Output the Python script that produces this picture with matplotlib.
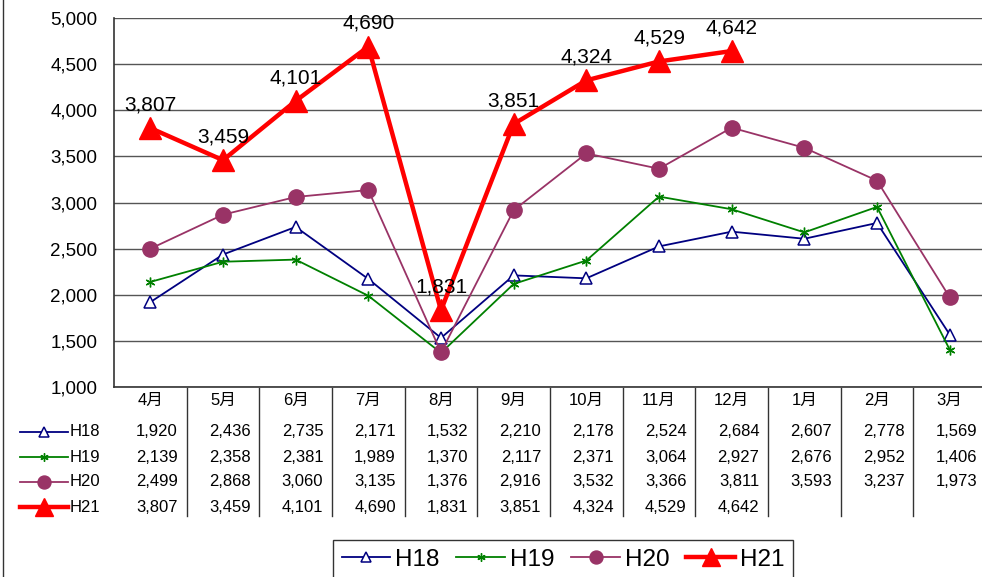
import numpy as np
import matplotlib
matplotlib.use("Agg")
import matplotlib.pyplot as plt
from matplotlib.lines import Line2D
import matplotlib.transforms as mtransforms

plt.rcParams['font.family'] = ['Liberation Sans', 'Noto Sans CJK JP', 'DejaVu Sans']

months = ['4月', '5月', '6月', '7月', '8月', '9月', '10月', '11月', '12月', '1月', '2月', '3月']
h18 = [1920, 2436, 2735, 2171, 1532, 2210, 2178, 2524, 2684, 2607, 2778, 1569]
h19 = [2139, 2358, 2381, 1989, 1370, 2117, 2371, 3064, 2927, 2676, 2952, 1406]
h20 = [2499, 2868, 3060, 3135, 1376, 2916, 3532, 3366, 3811, 3593, 3237, 1973]
h21 = [3807, 3459, 4101, 4690, 1831, 3851, 4324, 4529, 4642]
names = ['H18', 'H19', 'H20', 'H21']
series = [h18, h19, h20, h21]

W, H = 982, 577
fig = plt.figure(figsize=(W / 100, H / 100), dpi=100)
ax = fig.add_axes([114 / W, 1 - 387 / H, (986 - 114) / W, (387 - 18) / H])

styles = [
    dict(color='#000080', lw=1.3, marker='^', ms=9, mfc='white', mec='#000080', mew=1.1),
    dict(color='#008000', lw=1.3, marker=(6, 2, 0), ms=7, mec='#008000', mew=1.0),
    dict(color='#993366', lw=1.3, marker='o', ms=11, mfc='#993366', mec='#993366'),
    dict(color='#FF0000', lw=3.2, marker='^', ms=16, mfc='#FF0000', mec='#FF0000'),
]

x = np.arange(len(months))
handles = []
for name, vals, st in zip(names, series, styles):
    h, = ax.plot(x[:len(vals)], vals, label=name, clip_on=False, **st)
    handles.append(h)

for xi, v in zip(x, h21):
    ax.annotate(f'{v:,}', (xi, v), xytext=(0, 10), textcoords='offset points',
                ha='center', va='bottom', fontsize=15)

ax.set_xlim(-0.5, len(months) - 0.5)
ax.set_ylim(1000, 5000)
ax.set_yticks(np.arange(1000, 5001, 500))
ax.set_yticklabels([f'{v:,}' for v in range(1000, 5001, 500)], fontsize=13.5)
ax.yaxis.grid(True, color='#555555', lw=1.0)
ax.set_axisbelow(True)
ax.set_xticks([])
ax.tick_params(axis='y', length=0, pad=12)
for s in ['top', 'right']:
    ax.spines[s].set_visible(False)
ax.spines['left'].set_color('#333333')
ax.spines['bottom'].set_color('#333333')
ax.spines['left'].set_linewidth(1.2)
ax.spines['bottom'].set_linewidth(1.2)

# data table below the axes
trans = mtransforms.blended_transform_factory(ax.transData, fig.transFigure)
def fy(py):
    return 1 - py / H

for i, m in enumerate(months):
    ax.text(i, fy(400), m, transform=trans, ha='center', va='center', fontsize=12)
    if i > 0:
        fig.add_artist(Line2D([i - 0.5, i - 0.5], [fy(388), fy(516)], transform=trans,
                              color='#333333', lw=1.0))

row_y = [432, 457, 482, 507]
for name, vals, st, py in zip(names, series, styles, row_y):
    kst = dict(st)
    kst['ms'] = st['ms'] * 0.85
    fig.add_artist(Line2D([20 / W, 68 / W], [fy(py), fy(py)], transform=fig.transFigure,
                          color=kst['color'], lw=kst['lw']))
    fig.add_artist(Line2D([44 / W], [fy(py)], transform=fig.transFigure, ls='none',
                          **{k: v for k, v in kst.items() if k != 'lw'}))
    fig.text(70 / W, fy(py), name, ha='left', va='center', fontsize=12)
    for i, v in enumerate(vals):
        ax.text(i + 0.38, fy(py), f'{v:,}', transform=trans, ha='right', va='center', fontsize=12)

leg = fig.legend(handles=handles, loc='upper left', bbox_to_anchor=(333 / W, 1 - 540 / H),
                 ncol=4, fontsize=17.5, frameon=True, fancybox=False, handlelength=2.0,
                 columnspacing=0.7, handletextpad=0.2, borderpad=0.35, borderaxespad=0,
                 markerscale=0.85)
leg.get_frame().set_edgecolor('black')
leg.get_frame().set_linewidth(1.0)

fig.add_artist(Line2D([3 / W, 3 / W], [0, 1], transform=fig.transFigure, color='#333333', lw=1.0))

fig.savefig('out.png', dpi=100)
